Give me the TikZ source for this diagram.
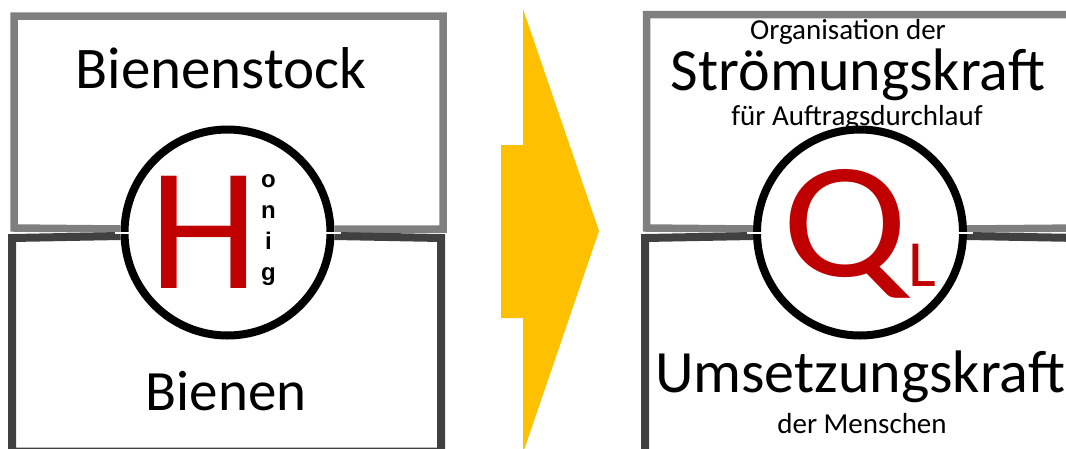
\documentclass[tikz,border=0pt]{standalone}
\usepackage{fontspec}
\setmainfont{Carlito}
\newfontfamily\boldsans{Liberation Sans}
\usetikzlibrary{calc}
\definecolor{framelight}{HTML}{7F7F7F}
\definecolor{framedark}{HTML}{404040}
\definecolor{letterred}{HTML}{C00000}
\definecolor{arrowgold}{HTML}{FFC000}
\begin{document}
\begin{tikzpicture}[x=1pt,y=-1pt,
  upperframe/.style={draw=framelight,line width=7.5pt},
  lowerframe/.style={draw=framedark,line width=8pt},
  ring/.style={circle,draw=black,line width=8pt,minimum size=206pt,inner sep=0pt,fill=white},
  notch/.style={draw=white,line width=1.6pt},
  big/.style={font=\fontsize{59}{59}\selectfont,anchor=base,inner sep=0pt},
  small/.style={font=\fontsize{29}{29}\selectfont,anchor=base,inner sep=0pt}]
\useasboundingbox (0,0) rectangle (1066,448);
\begin{scope}
\clip (0,0) rectangle (1066,448);

% ---- left panel: hive and bees ----
\node[ring] (hc) at (227.5,232.5) {};
\draw[upperframe] ([yshift=3.5pt]hc.west) -- (14,228) -- (14,16) -- (443,16) -- (443,229) -- ([yshift=3.5pt]hc.east);
\draw[lowerframe] ([yshift=-3.5pt]hc.west) -- (12,238) -- (12,451.5) -- (441,451.5) -- (441,238) -- ([yshift=-3.5pt]hc.east);
\draw[notch] ([xshift=-6pt,yshift=-0.5pt]hc.west) -- ([xshift=10pt,yshift=-0.5pt]hc.west);
\draw[notch] ([xshift=-10pt,yshift=-0.5pt]hc.east) -- ([xshift=6pt,yshift=-0.5pt]hc.east);

\node[big] (hive) at (221,88) {Bienenstock};
\node[big,font=\fontsize{57}{57}\selectfont] (bees) at (226,410) {Bienen};
\node[anchor=base,inner sep=0pt,text=letterred,font=\fontsize{175}{175}\selectfont] (hletter) at (204.5,288) {H};
\node[anchor=base,inner sep=0pt,align=center,font=\boldsans\bfseries\fontsize{24}{31}\selectfont] (honig) at (268.5,280) {o\\n\\i\\g};

% ---- arrow ----
\fill[arrowgold] (501,145) -- (523,145) -- (523,9) -- (599,231) -- (523,453) -- (523,318) -- (501,318) -- cycle;

% ---- right panel: flow force and implementation force ----
\node[ring] (qc) at (860,232.5) {};
\draw[upperframe] ([yshift=3.5pt]qc.west) -- (646.5,228) -- (646.5,14.5) -- (1080,14.5);
\draw[upperframe] ([yshift=3.5pt]qc.east) -- (1080,228);
\draw[lowerframe] ([yshift=-3.5pt]qc.west) -- (645,238) -- (645,460);
\draw[lowerframe] ([yshift=-3.5pt]qc.east) -- (1080,238);
\draw[notch] ([xshift=-6pt,yshift=-0.5pt]qc.west) -- ([xshift=10pt,yshift=-0.5pt]qc.west);
\draw[notch] ([xshift=-10pt,yshift=-0.5pt]qc.east) -- ([xshift=6pt,yshift=-0.5pt]qc.east);

\node[small] (org) at (848,39) {Organisation der};
\node[big,font=\fontsize{60}{60}\selectfont] (flow) at (858,90) {Strömungskraft};
\node[small] (order) at (857,125) {für Auftragsdurchlauf};
\node[big,font=\fontsize{60}{60}\selectfont] (impl) at (860,392) {Umsetzungskraft};
\node[small] (people) at (862,433) {der Menschen};
\node[anchor=base,inner sep=0pt,text=letterred,font=\fontsize{165}{165}\selectfont] (qletter) at (845,276) {\scalebox{1.13}[1]{Q}};
\node[anchor=base,inner sep=0pt,text=letterred,font=\fontsize{66}{66}\selectfont] (lsub) at (922,286) {L};
\end{scope}
\end{tikzpicture}
\end{document}
